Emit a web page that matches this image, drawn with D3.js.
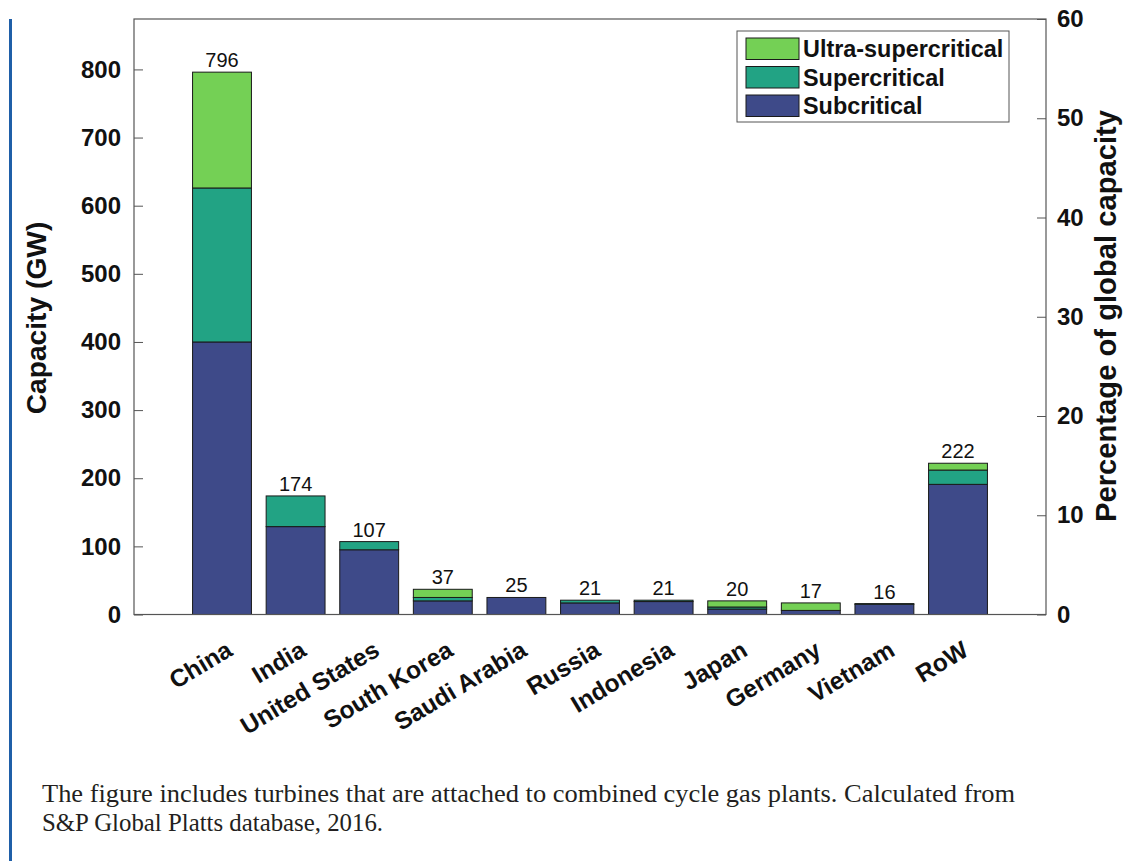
<!DOCTYPE html>
<html>
<head>
<meta charset="utf-8">
<script src="https://cdn.jsdelivr.net/npm/d3@7"></script>
<style>
  html, body { margin: 0; padding: 0; background: #fff; }
  svg { display: block; }
</style>
</head>
<body>
<svg id="chart" width="1134" height="861"></svg>
<script>
const categories = ["China", "India", "United States", "South Korea", "Saudi Arabia", "Russia", "Indonesia", "Japan", "Germany", "Vietnam", "RoW"];
const subcritical = [400, 129, 95, 20, 25, 17, 19, 8, 6, 15, 191];
const supercritical = [226, 45, 12, 5, 0, 4, 2, 3, 0, 1, 21];
const ultraSupercritical = [170, 0, 0, 12, 0, 0, 0, 9, 11, 0, 10];
const totals = [796, 174, 107, 37, 25, 21, 21, 20, 17, 16, 222];
const seriesNames = ["Subcritical", "Supercritical", "Ultra-supercritical"];
const seriesColors = ["#3e4a89", "#22a384", "#74d055"];
const leftTicks = [0, 100, 200, 300, 400, 500, 600, 700, 800];
const rightTicks = [0, 10, 20, 30, 40, 50, 60];
const leftMax = 874;
const rightMax = 60;

const svg = d3.select("#chart");
const L = 134, R = 1046, T = 19, B = 614.5;

const x = d3.scaleBand().domain(categories).range([185.2, 994.8]).paddingInner(0.2).paddingOuter(0.1);
const y = d3.scaleLinear().domain([0, leftMax]).range([B, T]);
const y2 = d3.scaleLinear().domain([0, rightMax]).range([B, T]);

// left blue rule
svg.append("rect").attr("x", 9).attr("y", T).attr("width", 3).attr("height", 861 - T).attr("fill", "#1f5fa8");

const table = categories.map((c, i) => ({cat: c, Subcritical: subcritical[i], Supercritical: supercritical[i], "Ultra-supercritical": ultraSupercritical[i], total: totals[i]}));
const stack = d3.stack().keys(seriesNames)(table);

const g = svg.append("g");
stack.forEach((layer, li) => {
  g.selectAll(null).data(layer.filter(d => d[1] - d[0] > 0)).enter().append("rect")
    .attr("x", d => x(d.data.cat))
    .attr("width", x.bandwidth())
    .attr("y", d => y(d[1]))
    .attr("height", d => y(d[0]) - y(d[1]))
    .attr("fill", seriesColors[li])
    .attr("stroke", "#1a1a1a")
    .attr("stroke-width", 1);
});

// value labels
g.selectAll(null).data(table).enter().append("text")
  .attr("x", d => x(d.cat) + x.bandwidth() / 2)
  .attr("y", d => y(d.total) - 5)
  .attr("text-anchor", "middle")
  .attr("font-family", "Liberation Sans, Arial, sans-serif")
  .attr("font-size", 20)
  .attr("fill", "#111")
  .text(d => d.total);

// frame
svg.append("rect").attr("x", L).attr("y", T).attr("width", R - L).attr("height", B - T)
  .attr("fill", "none").attr("stroke", "#555").attr("stroke-width", 1.2);

// left axis
const la = svg.append("g").attr("transform", `translate(${L},0)`)
  .call(d3.axisLeft(y).tickValues(leftTicks).tickSize(-9).tickPadding(13));
la.select(".domain").remove();
la.selectAll("line").attr("stroke", "#555");
la.selectAll("text").attr("font-family", "Liberation Sans, Arial, sans-serif").attr("font-weight", "bold").attr("font-size", 24).attr("fill", "#111");

// right axis
const ra = svg.append("g").attr("transform", `translate(${R},0)`)
  .call(d3.axisRight(y2).tickValues(rightTicks).tickSize(-9).tickPadding(11));
ra.select(".domain").remove();
ra.selectAll("line").attr("stroke", "#555");
ra.selectAll("text").attr("font-family", "Liberation Sans, Arial, sans-serif").attr("font-weight", "bold").attr("font-size", 24).attr("fill", "#111");

// x labels
svg.append("g").selectAll(null).data(categories).enter().append("text")
  .attr("transform", d => `translate(${x(d) + x.bandwidth() / 2 + 12},${B + 40}) rotate(-31)`)
  .attr("text-anchor", "end")
  .attr("font-family", "Liberation Sans, Arial, sans-serif")
  .attr("font-weight", "bold")
  .attr("font-size", 24.5)
  .attr("fill", "#111")
  .text(d => d);

// axis titles
svg.append("text")
  .attr("transform", `translate(46,318) rotate(-90)`)
  .attr("text-anchor", "middle")
  .attr("font-family", "Liberation Sans, Arial, sans-serif")
  .attr("font-weight", "bold").attr("font-size", 28.2).attr("fill", "#111")
  .text("Capacity (GW)");
svg.append("text")
  .attr("transform", `translate(1116,316) rotate(-90)`)
  .attr("text-anchor", "middle")
  .attr("font-family", "Liberation Sans, Arial, sans-serif")
  .attr("font-weight", "bold").attr("font-size", 29.2).attr("fill", "#111")
  .text("Percentage of global capacity");

// legend
const lg = svg.append("g");
lg.append("rect").attr("x", 737).attr("y", 31).attr("width", 272).attr("height", 91)
  .attr("fill", "#fff").attr("stroke", "#555").attr("stroke-width", 1);
const legendOrder = [2, 1, 0];
legendOrder.forEach((si, k) => {
  const yy = 38 + k * 28.5;
  lg.append("rect").attr("x", 746).attr("y", yy).attr("width", 53).attr("height", 21.5)
    .attr("fill", seriesColors[si]).attr("stroke", "#1a1a1a").attr("stroke-width", 1);
  lg.append("text").attr("x", 803).attr("y", yy + 19)
    .attr("font-family", "Liberation Sans, Arial, sans-serif").attr("font-weight", "bold")
    .attr("font-size", 23.4).attr("fill", "#111").text(seriesNames[si]);
});

// caption
const cap = svg.append("g").attr("font-family", "Liberation Serif, Times New Roman, serif").attr("font-size", 25).attr("fill", "#231f20");
cap.append("text").attr("x", 42).attr("y", 802).attr("textLength", 973).attr("lengthAdjust", "spacingAndGlyphs")
  .text("The figure includes turbines that are attached to combined cycle gas plants. Calculated from");
cap.append("text").attr("x", 42).attr("y", 831).attr("textLength", 341).attr("lengthAdjust", "spacingAndGlyphs")
  .text("S&P Global Platts database, 2016.");
</script>
</body>
</html>
